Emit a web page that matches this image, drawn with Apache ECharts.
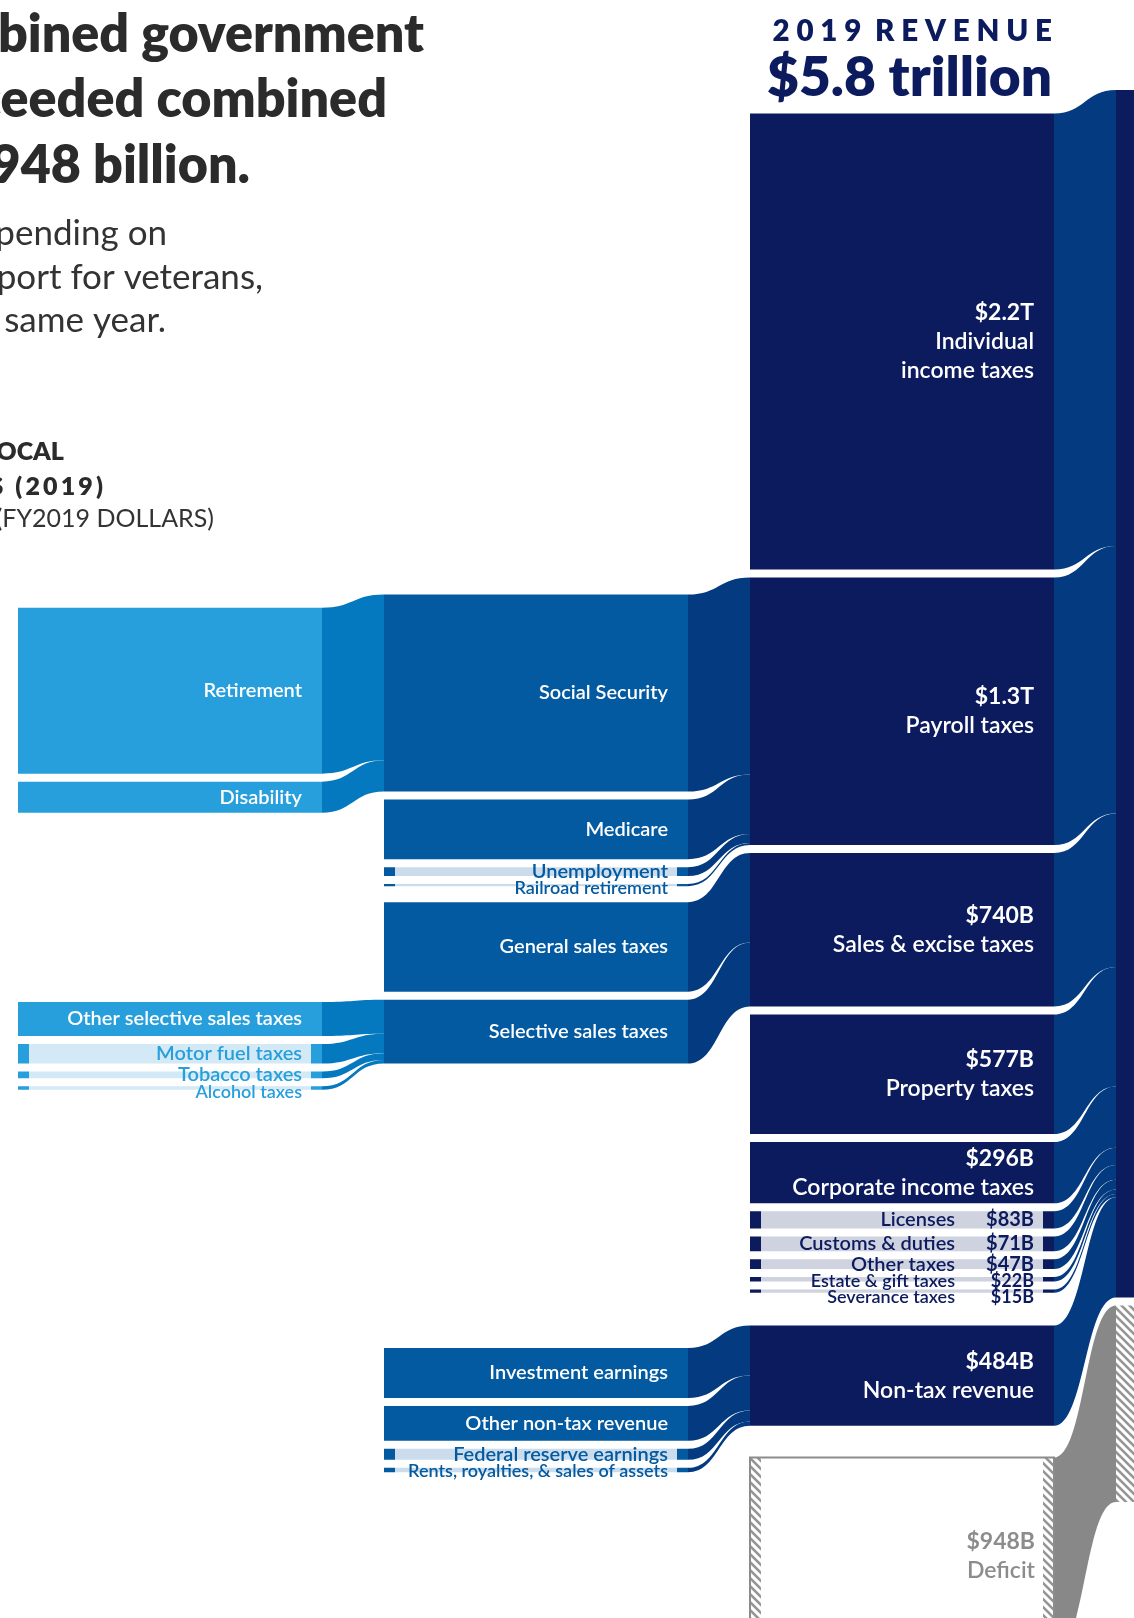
<!DOCTYPE html>
<html>
<head>
<meta charset="utf-8">
<title>2019 revenue</title>
<script src="https://cdn.jsdelivr.net/npm/echarts@6/dist/echarts.min.js"></script>
<style>
  html, body { margin: 0; padding: 0; background: #fff; }
  #chart { width: 1134px; height: 1618px; }
</style>
</head>
<body>
<div id="chart"></div>
<script>
// $ billions, FY2019
// column A: breakdown of social security and selective sales taxes
const colA = ['Retirement', 'Disability', 'Other selective sales taxes', 'Motor fuel taxes', 'Tobacco taxes', 'Alcohol taxes'];
const colAValues = [800, 150, 164, 94, 33, 17];
const colATargets = ['Social Security', 'Social Security', 'Selective sales taxes', 'Selective sales taxes', 'Selective sales taxes', 'Selective sales taxes'];

// column B: breakdown of payroll, sales and non-tax revenue
const colB = ['Social Security', 'Medicare', 'Unemployment', 'Railroad retirement', 'General sales taxes', 'Selective sales taxes',
  'Investment earnings', 'Other non-tax revenue', 'Federal reserve earnings', 'Rents, royalties, & sales of assets'];
const colBValues = [950, 288, 43, 10, 432, 308, 242, 168, 53, 21];
const colBTargets = ['Payroll taxes', 'Payroll taxes', 'Payroll taxes', 'Payroll taxes', 'Sales & excise taxes', 'Sales & excise taxes',
  'Non-tax revenue', 'Non-tax revenue', 'Non-tax revenue', 'Non-tax revenue'];

// column C: revenue sources
const colC = ['Individual income taxes', 'Payroll taxes', 'Sales & excise taxes', 'Property taxes', 'Corporate income taxes',
  'Licenses', 'Customs & duties', 'Other taxes', 'Estate & gift taxes', 'Severance taxes', 'Non-tax revenue', 'Deficit'];
const colCLabels = ['Individual\nincome taxes', 'Payroll taxes', 'Sales & excise taxes', 'Property taxes', 'Corporate income taxes',
  'Licenses', 'Customs & duties', 'Other taxes', 'Estate & gift taxes', 'Severance taxes', 'Non-tax revenue', 'Deficit'];
const colCValues = [2200, 1291, 740, 577, 296, 83, 71, 47, 22, 15, 484, 948];
const colCTargets = ['Total revenue', 'Total revenue', 'Total revenue', 'Total revenue', 'Total revenue', 'Total revenue',
  'Total revenue', 'Total revenue', 'Total revenue', 'Total revenue', 'Total revenue', 'Total deficit'];

// column D: totals (values come from the links)
const colD = ['Total revenue', 'Total deficit'];

// blank room inside a column, in $B, put before the node at that index
const columnPadding = [
  [[0, 2460], [2, 836]],
  [[0, 2396], [4, 0], [6, 1295]],
  [[0, 75], [10, 81], [11, 76]],
  []
];

const FONT = 'Lato';
const KX = 366, NODE_W = 304, CAP = 11, SMALL = 120;
const colStyle = [
  { fill: '#279fdc', tint: '#d3e9f6', text: '#279fdc', link: '#0479bf' },
  { fill: '#035aa0', tint: '#cbdded', text: '#035aa0', link: '#033a80' },
  { fill: '#0c1a5e', tint: '#cfd3e0', text: '#0c1a5e', link: '#033a80' },
  { fill: '#0c1a5e' }
];
const GREY = '#8c8c8c';

const money = v => v >= 1000 ? '$' + (v / 1000).toFixed(1) + 'T' : '$' + v + 'B';

// small nodes: dark end caps with a light band between them
function capPattern(cap, mid) {
  const c = document.createElement('canvas');
  c.width = KX; c.height = 2;
  const ctx = c.getContext('2d');
  ctx.fillStyle = mid; ctx.fillRect(0, 0, KX, 2);
  ctx.fillStyle = cap;
  ctx.fillRect(0, 0, CAP, 2);
  ctx.fillRect(NODE_W - CAP, 0, CAP, 2);
  return { image: c, repeat: 'repeat' };
}

function hatchPattern(edgesOnly) {
  const P = 8;
  const c = document.createElement('canvas');
  c.width = edgesOnly ? KX : P; c.height = P;
  const ctx = c.getContext('2d');
  ctx.fillStyle = '#fff'; ctx.fillRect(0, 0, c.width, P);
  const stripes = (x0, x1) => {
    ctx.save();
    ctx.beginPath(); ctx.rect(x0, 0, x1 - x0, P); ctx.clip();
    ctx.strokeStyle = '#959595'; ctx.lineWidth = 2.6;
    for (let x = Math.floor(x0 / P) * P - 2 * P; x < x1 + P; x += P) {
      ctx.beginPath(); ctx.moveTo(x - P, -P); ctx.lineTo(x + 2 * P, 2 * P); ctx.stroke();
    }
    ctx.restore();
  };
  if (edgesOnly) { stripes(0, CAP); stripes(NODE_W - CAP, NODE_W); }
  else stripes(0, P);
  return { image: c, repeat: 'repeat' };
}

function bigLabel(value, text, color) {
  const lines = text.split('\n').map(s => '{n|' + s + '}').join('\n');
  return {
    color: color,
    formatter: '{v|' + money(value) + '}\n' + lines,
    rich: {
      v: { fontFamily: FONT, fontSize: 23, fontWeight: 'bold', lineHeight: 29 },
      n: { fontFamily: FONT, fontSize: 23, fontWeight: 600, lineHeight: 29 }
    }
  };
}

function makeNode(depth, name, value, text) {
  const st = colStyle[depth];
  const small = value < SMALL;
  const fs = value < 30 ? 18 : 20;
  const node = { name: name, depth: depth };
  if (depth === 3) {
    node.itemStyle = { color: name === 'Total deficit' ? hatchPattern(false) : st.fill };
    node.label = { show: false };
  } else if (name === 'Deficit') {
    node.itemStyle = { color: hatchPattern(true), borderColor: GREY, borderWidth: 2 };
    node.label = bigLabel(value, text, GREY);
  } else if (depth === 2) {
    node.itemStyle = { color: small ? capPattern(st.fill, st.tint) : st.fill };
    if (small) {
      node.label = {
        color: st.text,
        formatter: '{n|' + text + '}{v|' + money(value) + '}',
        rich: {
          n: { fontFamily: FONT, fontSize: fs, fontWeight: 600 },
          v: { fontFamily: FONT, fontSize: fs, fontWeight: 'bold', width: 79, align: 'right' }
        }
      };
    } else {
      node.label = bigLabel(value, text, '#fff');
    }
  } else {
    node.itemStyle = { color: small ? capPattern(st.fill, st.tint) : st.fill };
    node.label = {
      color: small ? st.text : '#fff',
      fontSize: small ? fs : 20,
      fontWeight: 600,
      formatter: text
    };
  }
  return node;
}

const columns = [
  { names: colA, values: colAValues, targets: colATargets, labels: colA },
  { names: colB, values: colBValues, targets: colBTargets, labels: colB },
  { names: colC, values: colCValues, targets: colCTargets, labels: colCLabels },
  { names: colD, values: [0, 0], labels: colD }
];

const nodes = [];
const links = [];
const smallLabels = [];
columns.forEach((col, depth) => {
  col.names.forEach((name, i) => {
    columnPadding[depth].filter(p => p[0] === i).forEach(p => {
      nodes.push({
        name: 'pad-' + depth + '-' + i, depth: depth, value: p[1],
        itemStyle: { color: 'rgba(0,0,0,0)' }, label: { show: false }
      });
    });
    if (depth < 3 && col.values[i] < SMALL) smallLabels.push(nodes.length);
    nodes.push(makeNode(depth, name, col.values[i], col.labels[i]));
    if (col.targets) {
      links.push({
        source: name, target: col.targets[i], value: col.values[i],
        lineStyle: { color: name === 'Deficit' ? '#888888' : colStyle[depth].link, opacity: 1 }
      });
    }
  });
});

// labels of thin neighbouring nodes: push a label down when it runs into the one above
let labelBottom = {};
function spreadSmallLabels(p) {
  if (smallLabels.indexOf(p.dataIndex) < 0) return {};
  if (p.dataIndex === smallLabels[0]) labelBottom = {};
  const depth = nodes[p.dataIndex].depth;
  const r = p.labelRect;
  const prev = labelBottom[depth];
  const dy = prev != null && r.y < prev - 2 ? prev - 2 - r.y : 0;
  labelBottom[depth] = r.y + dy + r.height;
  return { dy: dy };
}

function text(x, baseline, str, size, weight, color) {
  return {
    type: 'text', x: x, y: baseline - size * 0.32,
    style: {
      text: str, fill: color, align: 'right', verticalAlign: 'middle',
      textAlign: 'right', textVerticalAlign: 'middle',
      font: weight + ' ' + size + 'px ' + FONT
    }
  };
}
const tracked = (s, gap, wordGap) => s.split(' ').map(w => w.split('').join(gap)).join(wordGap);

const chart = echarts.init(document.getElementById('chart'));
chart.setOption({
  backgroundColor: '#fff',
  animation: false,
  graphic: [
    text(424, 52, 'In 2019, combined government', 52, 800, '#2b2b2b'),
    text(387, 117, 'spending exceeded combined', 52, 800, '#2b2b2b'),
    text(250, 183, 'revenue by $948 billion.', 52, 800, '#2b2b2b'),
    text(167, 245, 'spending on', 35, 'normal', '#333333'),
    text(263, 289, 'support for veterans,', 35, 'normal', '#333333'),
    text(166, 332, 'the same year.', 35, 'normal', '#333333'),
    text(64, 460, 'STATE AND LOCAL', 25, 800, '#2b2b2b'),
    text(103, 495, tracked('REVENUES (2019)', '\u2009', '\u2009 \u2009'), 25, 800, '#2b2b2b'),
    text(214, 527, '(FY2019 DOLLARS)', 25, 'normal', '#333333'),
    text(1052, 41, tracked('2019 REVENUE', ' ', '  '), 29.5, 800, '#0c1a5e'),
    text(1052, 96, '$5.8 trillion', 55, 800, '#0c1a5e')
  ],
  series: [{
    type: 'sankey',
    left: 18, top: 90, width: 3 * KX + NODE_W, height: 1564,
    nodeWidth: NODE_W,
    nodeGap: 8,
    layoutIterations: 0,
    draggable: false,
    emphasis: { disabled: true },
    label: { position: 'insideRight', distance: 20, fontFamily: FONT },
    labelLayout: spreadSmallLabels,
    lineStyle: { curveness: 0.5, opacity: 1 },
    data: nodes,
    links: links
  }]
});
</script>
</body>
</html>
